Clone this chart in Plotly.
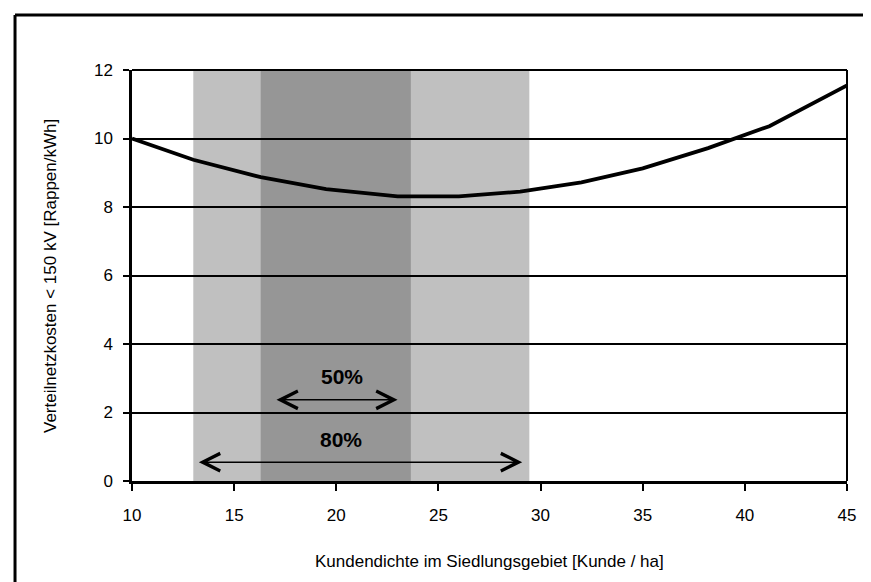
import plotly.graph_objects as go

# Data
density = [10, 13, 16.3, 19.5, 23, 26, 29, 32, 35, 38.2, 41.2, 45]
cost = [10.0, 9.38, 8.87, 8.52, 8.31, 8.31, 8.45, 8.72, 9.13, 9.72, 10.36, 11.55]

band80 = [13.0, 29.45]
band50 = [16.3, 23.65]

arrow50_x = [17.0, 23.0]
arrow50_y = 2.37
arrow80_x = [13.2, 29.1]
arrow80_y = 0.55

label50 = ("50%", 20.3, 3.05)
label80 = ("80%", 20.25, 1.2)

x_ticks = [10, 15, 20, 25, 30, 35, 40, 45]
y_ticks = [0, 2, 4, 6, 8, 10, 12]

FONT = "Liberation Sans, Arial, sans-serif"

fig = go.Figure()

fig.add_trace(go.Scatter(
    x=density, y=cost, mode="lines",
    line=dict(color="black", width=3.8),
    showlegend=False, hoverinfo="skip",
))

# shaded bands
fig.add_shape(type="rect", xref="x", yref="y", x0=band80[0], x1=band80[1], y0=0, y1=12,
              fillcolor="#C0C0C0", line=dict(width=0), layer="below")
fig.add_shape(type="rect", xref="x", yref="y", x0=band50[0], x1=band50[1], y0=0, y1=12,
              fillcolor="#969696", line=dict(width=0), layer="below")

# arrows
for xs, yv in [(arrow50_x, arrow50_y), (arrow80_x, arrow80_y)]:
    fig.add_annotation(x=xs[1], y=yv, ax=xs[0], ay=yv, xref="x", yref="y",
                       axref="x", ayref="y", text="", showarrow=True,
                       arrowhead=5, startarrowhead=5, arrowside="end+start",
                       arrowsize=2.3, startarrowsize=2.3, arrowwidth=1.5,
                       arrowcolor="black")

for txt, xv, yv in [label50, label80]:
    fig.add_annotation(x=xv, y=yv, xref="x", yref="y", text="<b>%s</b>" % txt,
                       showarrow=False, font=dict(family="Liberation Sans, Arial, sans-serif",
                                                  size=21, color="black"))

fig.add_annotation(xref="paper", yref="paper", x=0.5, y=-0.197, yanchor="middle",
                   text="Kundendichte im Siedlungsgebiet [Kunde / ha]", showarrow=False,
                   font=dict(family=FONT, size=17, color="black"))
fig.add_annotation(xref="paper", yref="paper", x=-0.114, y=0.5, xanchor="center",
                   text="Verteilnetzkosten &lt; 150 kV [Rappen/kWh]", showarrow=False,
                   textangle=-90, font=dict(family=FONT, size=17, color="black"))

fig.update_xaxes(range=[10, 45], tickvals=x_ticks, ticks="outside", ticklen=7,
                 tickwidth=1.5, tickcolor="black", showline=True, linecolor="black",
                 linewidth=2.5, mirror=False, showgrid=False, zeroline=False,
                 ticklabelstandoff=10,
                 tickfont=dict(family=FONT, size=17, color="black"))
fig.update_yaxes(range=[0, 12], tickvals=y_ticks, ticks="outside", ticklen=6,
                 tickwidth=1.5, tickcolor="black", showline=True, linecolor="black",
                 linewidth=2.5, showgrid=True, gridcolor="black", gridwidth=1.5,
                 zeroline=False, ticklabelstandoff=7,
                 tickfont=dict(family=FONT, size=17, color="black"))

# frame lines: right/top of plot area, left/top outer border
fig.add_shape(type="line", xref="paper", yref="paper", x0=1, x1=1, y0=0, y1=1,
              line=dict(color="black", width=2))
fig.add_shape(type="line", xref="paper", yref="paper", x0=0, x1=1, y0=1, y1=1,
              line=dict(color="black", width=2))
fig.add_shape(type="line", xref="paper", yref="paper", x0=-0.1636, x1=-0.1636, y0=-0.3, y1=1.134,
              line=dict(color="black", width=3))
fig.add_shape(type="line", xref="paper", yref="paper", x0=-0.1636, x1=1.1, y0=1.134, y1=1.134,
              line=dict(color="black", width=3))

fig.update_layout(
    width=871, height=582,
    margin=dict(l=124, r=32, t=62, b=109),
    plot_bgcolor="white", paper_bgcolor="white",
    showlegend=False,
)

fig.write_html("out.html")
